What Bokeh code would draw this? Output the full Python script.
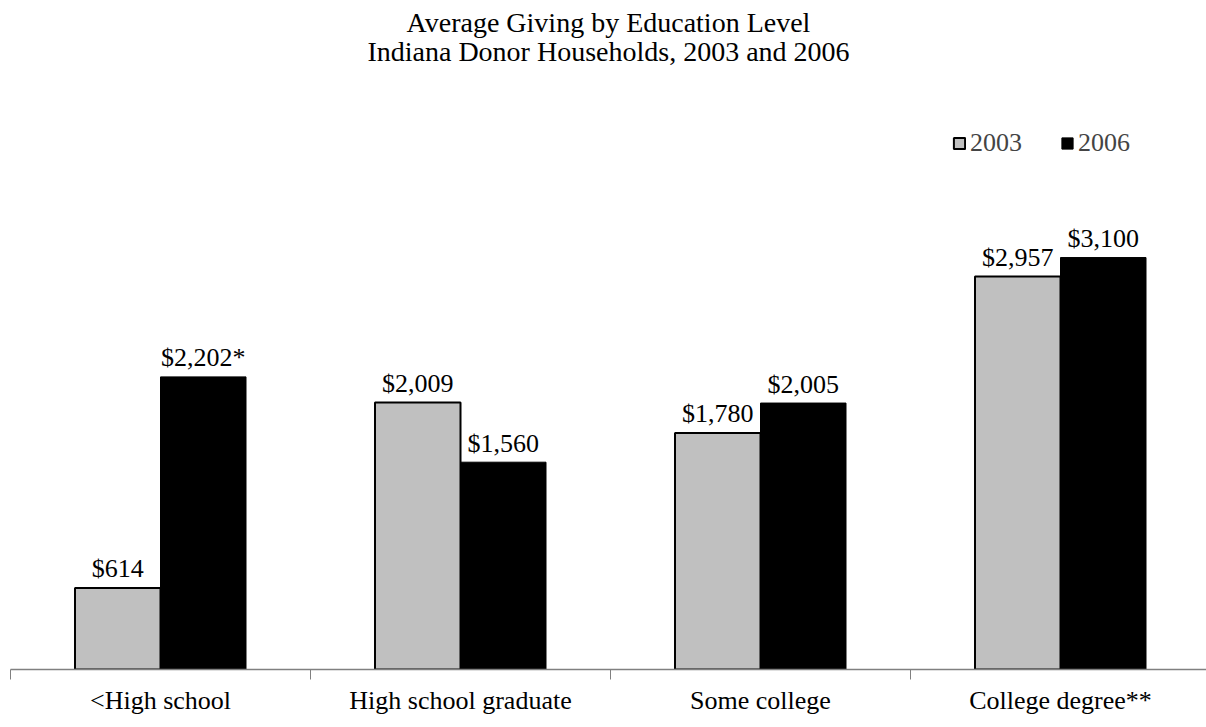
from bokeh.plotting import figure
from bokeh.models import (Range1d, FixedTicker, LinearAxis, Title, Legend, LegendItem,
                          ColumnDataSource)
from bokeh.core.properties import value
from bokeh.embed import file_html
from bokeh.resources import INLINE

# ---- data ----
categories = ["<High school", "High school graduate", "Some college", "College degree**"]
giving_2003 = [614, 2009, 1780, 2957]
giving_2006 = [2202, 1560, 2005, 3100]
notes_2003 = ["", "", "", ""]
notes_2006 = ["*", "", "", ""]
series_names = ["2003", "2006"]
title_lines = ["Average Giving by Education Level", "Indiana Donor Households, 2003 and 2006"]

FONT = "Liberation Serif"
GRAY = "#C0C0C0"
BAR_W = 0.285
n = len(categories)
centers = [i + 0.5 for i in range(n)]
x03 = [c - BAR_W / 2 for c in centers]
x06 = [c + BAR_W / 2 for c in centers]
lab03 = ["${:,}".format(v) + s for v, s in zip(giving_2003, notes_2003)]
lab06 = ["${:,}".format(v) + s for v, s in zip(giving_2006, notes_2006)]

src03 = ColumnDataSource(dict(x=x03, top=giving_2003, label=lab03))
src06 = ColumnDataSource(dict(x=x06, top=giving_2006, label=lab06))

FRAME_W = 1196
p = figure(frame_width=FRAME_W, frame_height=598,
           x_range=Range1d(0, FRAME_W / 300.0), y_range=Range1d(0, 4500),
           x_axis_location=None, y_axis_location=None,
           output_backend="svg", toolbar_location=None,
           min_border_left=10, min_border_right=0, min_border_top=70, min_border_bottom=0)
p.outline_line_color = None
p.xgrid.visible = False
p.ygrid.visible = False
p.background_fill_color = "white"
p.border_fill_color = "white"

r03 = p.vbar(x="x", top="top", width=BAR_W, source=src03, fill_color=GRAY,
             line_color="black", line_width=2)
r06 = p.vbar(x="x", top="top", width=BAR_W, source=src06, fill_color="black",
             line_color="black", line_width=1)

for src in (src03, src06):
    p.text(x="x", y="top", text="label", source=src, text_align="center",
           text_baseline="alphabetic", y_offset=-19, text_font=value(FONT),
           text_font_size="26px", text_color="black")

# category axis
ticker = FixedTicker(ticks=centers, minor_ticks=list(range(n)))
xaxis = LinearAxis(ticker=ticker)
xaxis.major_label_overrides = {c: name for c, name in zip(centers, categories)}
xaxis.major_tick_line_color = None
xaxis.minor_tick_line_color = "#808080"
xaxis.minor_tick_in = 0
xaxis.minor_tick_out = 10
xaxis.axis_line_color = "#808080"
xaxis.axis_line_width = 1.5
xaxis.major_label_standoff = 6
xaxis.major_label_text_font = FONT
xaxis.major_label_text_font_size = "26px"
xaxis.major_label_text_color = "black"
p.add_layout(xaxis, "below")

# legend
legend = Legend(items=[LegendItem(label=series_names[0], renderers=[r03]),
                       LegendItem(label=series_names[1], renderers=[r06])],
                orientation="horizontal", location=(942, 511),
                padding=0, margin=0, spacing=38, label_standoff=4,
                glyph_width=14, glyph_height=14,
                border_line_color=None, background_fill_alpha=0,
                label_text_font=FONT, label_text_font_size="26px")
p.add_layout(legend)

# title (two lines in one block)
p.add_layout(Title(text="\n".join(title_lines), align="center", text_align="center",
                   text_font=FONT, text_font_size="28px", text_font_style="normal",
                   text_line_height=0.93, text_color="black", standoff=9, offset=0),
             "above")

open("out.html", "w").write(file_html(p, INLINE))
